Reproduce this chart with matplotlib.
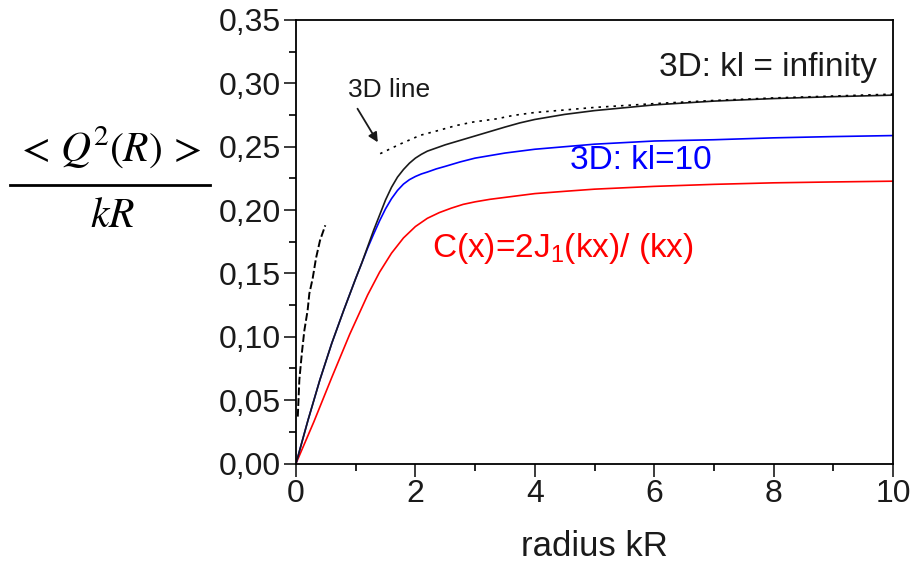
import numpy as np
import matplotlib
matplotlib.use('Agg')
import matplotlib.pyplot as plt
from matplotlib.lines import Line2D
from matplotlib.ticker import MultipleLocator, FuncFormatter

plt.rcParams['font.family'] = ['Liberation Sans', 'DejaVu Sans']
plt.rcParams['mathtext.default'] = 'regular'

# curves
x_inf = [0, 0.2, 0.4, 0.6, 0.8, 1.0, 1.1, 1.2, 1.3, 1.4, 1.5, 1.6, 1.7, 1.8, 1.9, 2.0, 2.1, 2.2, 2.35, 2.5, 2.75,
         3.0, 3.25, 3.5, 3.75, 4.0, 4.5, 5.0, 6.0, 7.0, 8.0, 9.0, 10.0]
y_inf = [0, 0.034, 0.066, 0.095, 0.121, 0.146, 0.158, 0.171, 0.184, 0.196, 0.208, 0.218, 0.226, 0.232, 0.237, 0.241,
         0.244, 0.2465, 0.249, 0.2515, 0.255, 0.2585, 0.262, 0.2655, 0.2688, 0.2715, 0.2755, 0.2785, 0.283, 0.286,
         0.288, 0.2895, 0.2907]

x_kl10 = [0, 0.2, 0.4, 0.6, 0.8, 1.0, 1.1, 1.2, 1.3, 1.4, 1.5, 1.6, 1.7, 1.8, 1.9, 2.0, 2.1, 2.2, 2.35, 2.5, 2.75,
          3.0, 3.5, 4.0, 5.0, 6.0, 7.0, 8.0, 9.0, 10.0]
y_kl10 = [0, 0.034, 0.066, 0.095, 0.121, 0.146, 0.158, 0.170, 0.181, 0.1915, 0.201, 0.209, 0.2155, 0.2205, 0.224,
          0.2265, 0.2285, 0.230, 0.2325, 0.2345, 0.238, 0.241, 0.245, 0.248, 0.252, 0.2545, 0.2555, 0.257, 0.258,
          0.2588]

x_c = [0, 0.3, 0.6, 0.9, 1.2, 1.4, 1.6, 1.8, 2.0, 2.2, 2.4, 2.6, 2.8, 3.0, 3.25, 3.5, 3.75, 4.0, 4.5, 5.0, 6.0, 7.0,
       8.0, 9.0, 10.0]
y_c = [0, 0.033, 0.068, 0.102, 0.133, 0.151, 0.166, 0.178, 0.187, 0.1935, 0.198, 0.2015, 0.2045, 0.2065, 0.2085,
       0.210, 0.2115, 0.213, 0.2148, 0.2165, 0.2187, 0.2203, 0.2215, 0.2222, 0.2228]

x_small = [0.03, 0.056, 0.10, 0.14, 0.195, 0.223, 0.279, 0.335, 0.402, 0.491]
y_small = [0.037, 0.066, 0.088, 0.105, 0.121, 0.134, 0.146, 0.162, 0.176, 0.188]

x_3d = [1.41, 1.74, 2.08, 2.36, 2.69, 2.97, 3.36, 3.64, 4.0, 4.5, 5.0, 6.0, 7.0, 8.0, 9.0, 10.0]
y_3d = [0.2445, 0.252, 0.259, 0.2625, 0.2668, 0.2695, 0.272, 0.2747, 0.277, 0.279, 0.281, 0.284, 0.2865, 0.2885,
        0.290, 0.2915]

fig = plt.figure(figsize=(9.1, 5.63), dpi=100)
ax = fig.add_axes([296/910, 1-463.5/563, (893-296)/910, (463.5-20)/563])

ax.plot(x_c, y_c, color='#ff0000', lw=1.2)
ax.plot(x_kl10, y_kl10, color='#0000ff', lw=1.2)
ax.plot(x_inf, y_inf, color='#1a1a1a', lw=1.2)
ax.plot(x_small, y_small, color='black', lw=1.4, ls=(0, (4, 1.5)))
ax.plot(x_3d, y_3d, color='black', lw=1.2, ls=(0, (1.5, 3)))

ax.set_xlim(0, 10)
ax.set_ylim(0, 0.35)
ax.xaxis.set_major_locator(MultipleLocator(2))
ax.xaxis.set_minor_locator(MultipleLocator(1))
ax.yaxis.set_major_locator(MultipleLocator(0.05))
ax.yaxis.set_minor_locator(MultipleLocator(0.025))
ax.yaxis.set_major_formatter(FuncFormatter(lambda v, p: ('%.2f' % v).replace('.', ',')))
ax.tick_params(which='major', length=9, width=1.2, labelsize=23, colors='#1a1a1a', pad=2)
ax.tick_params(which='minor', length=5, width=1.2)
for s in ax.spines.values():
    s.set_linewidth(1.3)

ax.set_xlabel('radius kR', fontsize=25, color='#1a1a1a', labelpad=15)

# y label drawn as a fraction by hand
fig.text(108/910, 1-148/563, r'$\mathrm{<}\,\mathit{Q}^{\mathrm{2}}\mathrm{(}\mathit{R}\mathrm{)}\,\mathrm{>}$',
         fontsize=30, math_fontfamily='stix', ha='center', va='center')
fig.add_artist(Line2D([10/910, 210/910], [1-185/563, 1-185/563], transform=fig.transFigure,
                      color='black', lw=2))
fig.text(112/910, 1-216/563, r'$\mathit{kR}$', fontsize=30, math_fontfamily='stix', ha='center', va='center')

ax.text(7.9, 0.3125, '3D: kl = infinity', fontsize=24, color='#1a1a1a', ha='center', va='center')
ax.text(5.78, 0.239, '3D: kl=10', fontsize=24, color='#0000ff', ha='center', va='center')
ax.text(4.47, 0.170, 'C(x)=2J$_1$(kx)/ (kx)', fontsize=24, color='#ff0000', ha='center', va='center')
ax.text(1.56, 0.295, '3D line', fontsize=19, color='#1a1a1a', ha='center', va='center')
ax.annotate('', xy=(1.37, 0.2535), xytext=(1.03, 0.280),
            arrowprops=dict(arrowstyle='-|>', color='#1a1a1a', lw=1.3, shrinkA=0, shrinkB=0,
                            mutation_scale=14))

plt.savefig('out.png', dpi=100)
